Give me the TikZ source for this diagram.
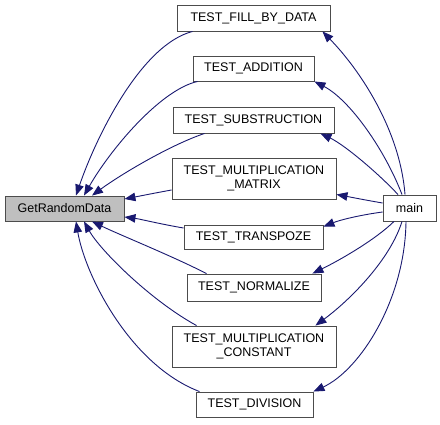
\documentclass[tikz,border=0pt]{standalone}
\usepackage{fontspec}
\setmainfont{Liberation Sans}
\usetikzlibrary{arrows.meta}
\definecolor{edgeblue}{RGB}{25,25,112}
\definecolor{nodegray}{RGB}{191,191,191}
\tikzset{
  box/.style={draw=black!70, line width=0.9pt, fill=white, inner sep=0pt, align=center,
    font=\fontsize{12.5}{14}\selectfont},
  edge/.style={draw=edgeblue, line width=0.9pt, -{Triangle[length=11pt,width=8.5pt]}, color=edgeblue}
}
\begin{document}
\begin{tikzpicture}[x=1pt,y=-1pt]
\useasboundingbox (0,0) rectangle (440,424);
\node[box, fill=nodegray, minimum width=119pt, minimum height=25pt] (grd) at (64.5,208.5) {GetRandomData};
\node[box, minimum width=153pt, minimum height=26pt] (fill) at (253.5,18) {TEST\_FILL\_BY\_DATA};
\node[box, minimum width=121pt, minimum height=25pt] (add) at (253.5,68.5) {TEST\_ADDITION};
\node[box, minimum width=161pt, minimum height=26pt] (sub) at (253.5,120) {TEST\_SUBSTRUCTION};
\node[box, minimum width=164pt, minimum height=41pt] (mm) at (254,178.5) {TEST\_MULTIPLICATION\\\_MATRIX};
\node[box, minimum width=139pt, minimum height=24pt] (tr) at (253.5,237) {TEST\_TRANSPOZE};
\node[box, minimum width=134pt, minimum height=27pt] (nor) at (254,287.5) {TEST\_NORMALIZE};
\node[box, minimum width=164pt, minimum height=41pt] (mc) at (254,346.5) {TEST\_MULTIPLICATION\\\_CONSTANT};
\node[box, minimum width=117pt, minimum height=25pt] (div) at (254.5,404.5) {TEST\_DIVISION};
\node[box, minimum width=53pt, minimum height=26pt] (main) at (409.5,208) {main};
% tests -> GetRandomData
\draw[edge] ([xshift=16pt]fill.south west) .. controls (140,45) and (95,140) .. ([xshift=11.5pt]grd.north);
\draw[edge] ([xshift=5pt]add.south west) .. controls (160,90) and (110,150) .. ([xshift=19.5pt]grd.north);
\draw[edge] ([xshift=32pt]sub.south west) .. controls (170,145) and (120,175) .. ([xshift=27.5pt]grd.north);
\draw[edge] ([yshift=-11.5pt]mm.west) .. controls (155,193) and (140,196) .. ([yshift=9.5pt]grd.east);
\draw[edge] ([yshift=9pt]tr.west) .. controls (160,224) and (140,219) .. ([yshift=-8.5pt]grd.east);
\draw[edge] ([xshift=20pt]nor.north west) .. controls (170,255) and (120,235) .. ([xshift=27.5pt]grd.south);
\draw[edge] ([xshift=25pt]mc.north west) .. controls (150,300) and (100,250) .. ([xshift=19.5pt]grd.south);
\draw[edge] ([xshift=4pt]div.north west) .. controls (130,365) and (85,275) .. ([xshift=11.5pt]grd.south);
% main -> tests
\draw[edge] ([xshift=-4.5pt]main.north) .. controls (400,130) and (360,70) .. ([xshift=-8pt]fill.south east);
\draw[edge] ([xshift=-7.5pt]main.north) .. controls (385,150) and (350,100) .. (add.south east);
\draw[edge] ([xshift=-11.5pt]main.north) .. controls (380,175) and (345,145) .. ([xshift=-14pt]sub.south east);
\draw[edge] ([yshift=5pt]main.west) .. controls (365,200) and (350,197) .. ([yshift=5pt]mm.south east);
\draw[edge] ([yshift=-4pt]main.west) .. controls (360,215) and (340,220) .. ([yshift=-2pt]tr.north east);
\draw[edge] ([xshift=-15.5pt]main.south) .. controls (375,240) and (340,260) .. ([xshift=-9pt]nor.north east);
\draw[edge] ([xshift=-7.5pt]main.south) .. controls (390,260) and (350,300) .. ([xshift=-21pt]mc.north east);
\draw[edge] ([xshift=-3.5pt]main.south) .. controls (405,300) and (360,370) .. (div.north east);
\end{tikzpicture}
\end{document}
